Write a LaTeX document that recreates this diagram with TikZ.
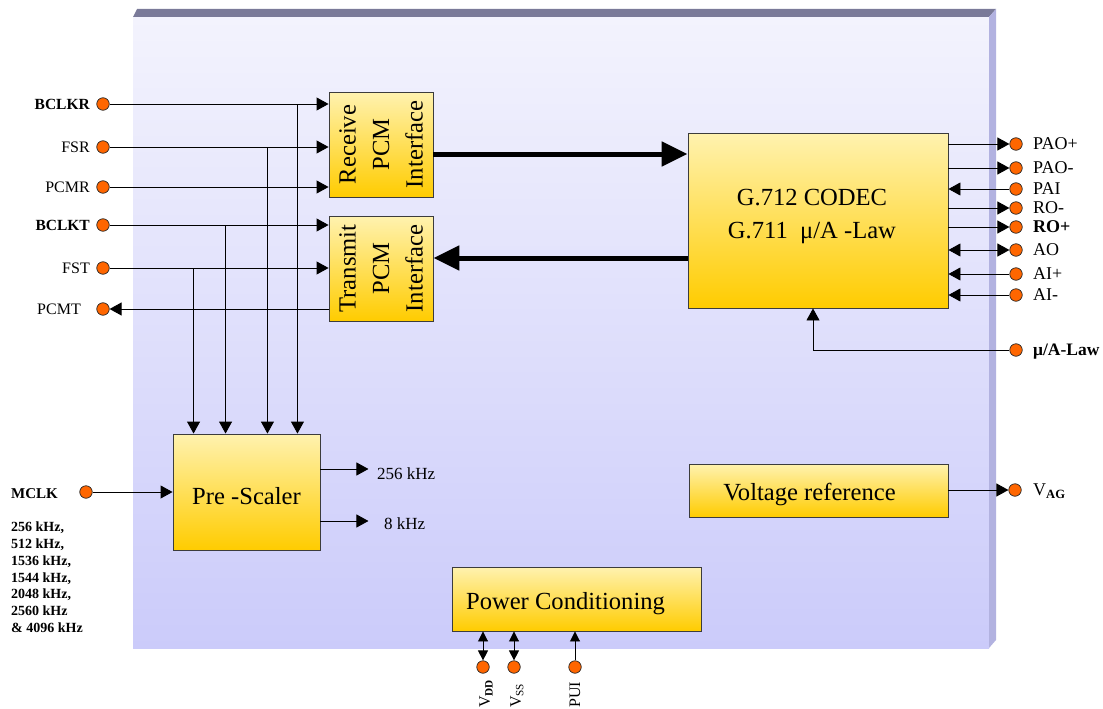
\documentclass[tikz,border=0pt]{standalone}
\usepackage{fontspec}
\setmainfont{Liberation Serif}
\usetikzlibrary{arrows.meta,calc}
\definecolor{boxtop}{RGB}{255,242,175}
\definecolor{boxbot}{RGB}{255,204,0}
\definecolor{facetop}{RGB}{243,243,253}
\definecolor{facebot}{RGB}{203,203,250}
\definecolor{topband}{RGB}{122,122,153}
\definecolor{sideband}{RGB}{178,178,224}
\definecolor{pinorange}{RGB}{255,102,0}
\definecolor{boxedge}{RGB}{60,60,60}
\begin{document}
\begin{tikzpicture}[x=1pt,y=-1pt,
 blk/.style={draw=boxedge, line width=0.9pt, top color=boxtop, bottom color=boxbot, inner sep=0},
 pinc/.style={circle, draw=black!85, fill=pinorange, line width=0.7pt, minimum size=12.5pt, inner sep=0},
 sig/.style={line width=0.9pt, -{Triangle[length=12pt,width=13pt]}},
 sigb/.style={line width=0.9pt, {Triangle[length=12pt,width=13pt]}-{Triangle[length=12pt,width=13pt]}},
 sigs/.style={line width=0.9pt, -{Triangle[length=10pt,width=10pt]}},
 sigsb/.style={line width=0.9pt, {Triangle[length=10pt,width=10pt]}-{Triangle[length=10pt,width=10pt]}},
 fat/.style={line width=5pt, -{Triangle[length=26pt,width=24pt]}},
 lab/.style={inner sep=0, font=\fontsize{16}{19}\selectfont},
 rlab/.style={inner sep=0, font=\fontsize{18}{21}\selectfont, anchor=west},
 btxt/.style={inner sep=0, font=\fontsize{24.6}{33.5}\selectfont, align=center},
]
\useasboundingbox (0,0) rectangle (1103,709);
% chip body
\fill[top color=facetop, bottom color=facebot] (133,17) rectangle (989,648);
\fill[topband] (133,17) -- (137,9) -- (996,9) -- (989,17) -- cycle;
\fill[sideband] (989,17) -- (996,9) -- (996,640) -- (989,648) -- cycle;

% blocks
\node[blk, minimum width=104pt, minimum height=105pt] (rx) at (381,144.5) {};
\node[btxt, rotate=90] (rxt) at (rx.center) {Receive\\PCM\\Interface};
\node[blk, minimum width=104pt, minimum height=105pt] (tx) at (381,268.5) {};
\node[btxt, rotate=90] (txt) at (tx.center) {Transmit\\PCM\\Interface};
\node[blk, minimum width=260pt, minimum height=175pt] (codec) at (818,220.5) {};
\node[btxt] (codect) at ([xshift=-6pt,yshift=4pt]codec.center) {G.712 CODEC\\G.711~~μ/A -Law};
\node[blk, minimum width=147pt, minimum height=116pt] (ps) at (246.5,492) {};
\node[btxt] (pst) at ([yshift=-4pt]ps.center) {Pre -Scaler};
\node[blk, minimum width=259pt, minimum height=53pt] (vref) at (818.5,490.5) {};
\node[btxt] (vreft) at ([xshift=-9pt,yshift=-4pt]vref.center) {Voltage reference};
\node[blk, minimum width=249pt, minimum height=64pt] (pw) at (576.5,599) {};
\node[btxt] (pwt) at ([xshift=-11pt,yshift=-5pt]pw.center) {Power Conditioning};

% left pins
\node[pinc] (pBCLKR) at (103,104) {};
\node[pinc] (pFSR) at (103,147) {};
\node[pinc] (pPCMR) at (103,187) {};
\node[pinc] (pBCLKT) at (103,225) {};
\node[pinc] (pFST) at (103,268) {};
\node[pinc] (pPCMT) at (103,309) {};
\node[lab, anchor=east, font=\fontsize{15.5}{18}\selectfont\bfseries] (lBCLKR) at (90,104) {BCLKR};
\node[lab, anchor=east] (lFSR) at (90,147) {FSR};
\node[lab, anchor=east] (lPCMR) at (90,187) {PCMR};
\node[lab, anchor=east, font=\fontsize{15.5}{18}\selectfont\bfseries] (lBCLKT) at (90,225) {BCLKT};
\node[lab, anchor=east] (lFST) at (90,268) {FST};
\node[lab, anchor=east] (lPCMT) at (81,309) {PCMT};

\node[pinc] (pMCLK) at (86,492) {};
\node[lab, anchor=west, font=\fontsize{15}{18}\selectfont\bfseries] (lMCLK) at (11,494) {MCLK};
\node[inner sep=0, anchor=north west, align=left, font=\fontsize{14}{16.7}\selectfont\bfseries] (lfreq) at (11,522) {256 kHz,\\512 kHz,\\1536 kHz,\\1544 kHz,\\2048 kHz,\\2560 kHz\\\& 4096 kHz};

% right pins
\node[pinc] (pPAOp) at (1016,144) {};
\node[pinc] (pPAOm) at (1016,168) {};
\node[pinc] (pPAI) at (1016,189) {};
\node[pinc] (pROm) at (1016,208) {};
\node[pinc] (pROp) at (1016,227) {};
\node[pinc] (pAO) at (1016,250) {};
\node[pinc] (pAIp) at (1016,274) {};
\node[pinc] (pAIm) at (1016,295) {};
\node[pinc] (pLaw) at (1016,350) {};
\node[pinc] (pVAG) at (1015,490) {};
\node[rlab] (lPAOp) at (1033,144) {PAO+};
\node[rlab] (lPAOm) at (1033,168) {PAO-};
\node[rlab] (lPAI) at (1033,189) {PAI};
\node[rlab] (lROm) at (1033,208) {RO-};
\node[rlab, font=\fontsize{18}{21}\selectfont\bfseries] (lROp) at (1033,227) {RO+};
\node[rlab] (lAO) at (1033,250) {AO};
\node[rlab] (lAIp) at (1033,274) {AI+};
\node[rlab] (lAIm) at (1033,295) {AI-};
\node[rlab, font=\fontsize{17.5}{20}\selectfont\bfseries] (lLaw) at (1033,352) {μ/A-Law};
\node[rlab, font=\fontsize{18}{21}\selectfont] (lVAG) at (1033,491) {V\textsubscript{\textbf{AG}}};

% bottom pins
\node[pinc] (pVDD) at (483,667) {};
\node[pinc] (pVSS) at (514,667) {};
\node[pinc] (pPUI) at (575,667) {};
\node[lab, rotate=90, anchor=west, font=\fontsize{16}{18}\selectfont] (lVDD) at (486,708) {V\textsubscript{\textbf{DD}}};
\node[lab, rotate=90, anchor=west, font=\fontsize{16}{18}\selectfont] (lVSS) at (517,708) {V\textsubscript{SS}};
\node[lab, rotate=90, anchor=west, font=\fontsize{16}{18}\selectfont] (lPUI) at (575,708) {PUI};

% prescaler output labels
\node[lab, anchor=west, font=\fontsize{17}{20}\selectfont] (o256) at (377,474) {256 kHz};
\node[lab, anchor=west, font=\fontsize{17}{20}\selectfont] (o8) at (384,524) {8 kHz};

% connectors: left side
\draw[sig] (pBCLKR.east) -- (rx.west |- pBCLKR);
\draw[sig] (pFSR.east) -- (rx.west |- pFSR);
\draw[sig] (pPCMR.east) -- (rx.west |- pPCMR);
\draw[sig] (pBCLKT.east) -- (tx.west |- pBCLKT);
\draw[sig] (pFST.east) -- (tx.west |- pFST);
\draw[sig] (tx.west |- pPCMT) -- (pPCMT.east);

\coordinate (d1) at ([xshift=-23pt]ps.north east);
\coordinate (d2) at ([xshift=-53pt]ps.north east);
\coordinate (d3) at ([xshift=53pt]ps.north west);
\coordinate (d4) at ([xshift=21pt]ps.north west);
\draw[sig] (d1 |- pBCLKR) -- (d1);
\draw[sig] (d2 |- pFSR) -- (d2);
\draw[sig] (d3 |- pBCLKT) -- (d3);
\draw[sig] (d4 |- pFST) -- (d4);

\draw[sig] (pMCLK.east) -- (ps.west |- pMCLK);
\coordinate (o1) at ([yshift=23pt]ps.east);
\coordinate (o2) at ([yshift=-29pt]ps.east);
\draw[sig] (o1) -- ++(48,0);
\draw[sig] (o2) -- ++(48,0);

% fat data paths
\coordinate (r1) at ([yshift=-9.5pt]rx.east);
\coordinate (t1) at ([yshift=10.5pt]tx.east);
\draw[fat] (r1) -- (r1 -| codec.west);
\draw[fat] (t1 -| codec.west) -- (t1);

% right side
\draw[sig] (codec.east |- pPAOp) -- (pPAOp.west);
\draw[sig] (codec.east |- pPAOm) -- (pPAOm.west);
\draw[sig] (pPAI.west) -- (codec.east |- pPAI);
\draw[sig] (codec.east |- pROm) -- (pROm.west);
\draw[sig] (codec.east |- pROp) -- (pROp.west);
\draw[sigb] (codec.east |- pAO) -- (pAO.west);
\draw[sig] (pAIp.west) -- (codec.east |- pAIp);
\draw[sig] (pAIm.west) -- (codec.east |- pAIm);
\coordinate (lawin) at ([xshift=-5pt]codec.south);
\draw[sig] (pLaw.west) -| (lawin);
\draw[sig] (vref.east |- pVAG) -- (pVAG.west);

% bottom
\draw[sigsb] (pw.south -| pVDD) -- (pVDD.north);
\draw[sigsb] (pw.south -| pVSS) -- (pVSS.north);
\draw[sigs] (pPUI.north) -- (pw.south -| pPUI);
\end{tikzpicture}
\end{document}
